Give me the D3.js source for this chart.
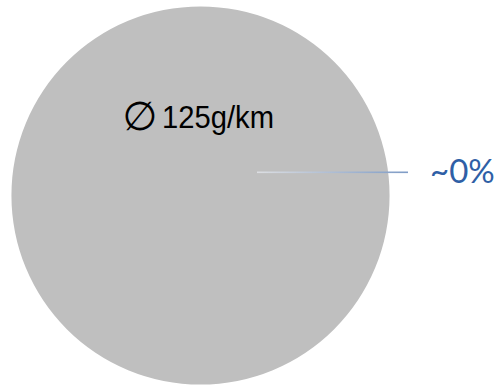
<!DOCTYPE html>
<html><head><meta charset="utf-8">
<script src="https://cdn.jsdelivr.net/npm/d3@7"></script>
<style>html,body{margin:0;padding:0;background:#fff;}svg{display:block;}</style>
</head><body>
<svg id="c" width="497" height="385"></svg>
<script>
const categories = ["Emissions", "Share"];
const values = [100, 0];
const centerLabel = "125g/km";
const sliceLabels = ["", "~0%"];

const svg = d3.select("#c");
const cx = 200.5, cy = 195.5, r = 189;
const g = svg.append("g").attr("transform", `translate(${cx},${cy})`);
const pie = d3.pie().sort(null)(values);
const arc = d3.arc().innerRadius(0).outerRadius(r);
const colors = d3.scaleOrdinal().domain(categories).range(["#bfbfbf", "#4472c4"]);
g.selectAll("path").data(pie).join("path")
  .attr("d", arc).attr("fill", (d, i) => colors(categories[i]));

const defs = svg.append("defs");
const grad = defs.append("linearGradient").attr("id", "lg").attr("x1", "0").attr("x2", "1").attr("y1", "0").attr("y2", "0");
grad.append("stop").attr("offset", "0").attr("stop-color", "#dcdee2");
grad.append("stop").attr("offset", "1").attr("stop-color", "#7f9cc6");
svg.append("rect").attr("x", 257).attr("y", 171.5).attr("width", 151).attr("height", 1.6).attr("fill", "url(#lg)");

svg.append("text").attr("x", 430).attr("y", 183)
  .attr("font-family", "Lato, 'Open Sans', sans-serif").attr("font-size", 33)
  .attr("fill", "#2f5fa6").text(sliceLabels[1]);

// center label
svg.append("text").attr("x", 140).attr("y", 130).attr("text-anchor", "middle")
  .attr("font-family", "'DejaVu Sans', sans-serif").attr("font-size", 40)
  .attr("fill", "#000").text("\u2205");
svg.append("text").attr("x", 162).attr("y", 128)
  .attr("font-family", "'Liberation Sans Narrow', 'Liberation Sans', Arial, sans-serif").attr("font-size", 32)
  .attr("textLength", 112).attr("lengthAdjust", "spacingAndGlyphs")
  .attr("fill", "#000").text(centerLabel);
</script>
</body></html>
